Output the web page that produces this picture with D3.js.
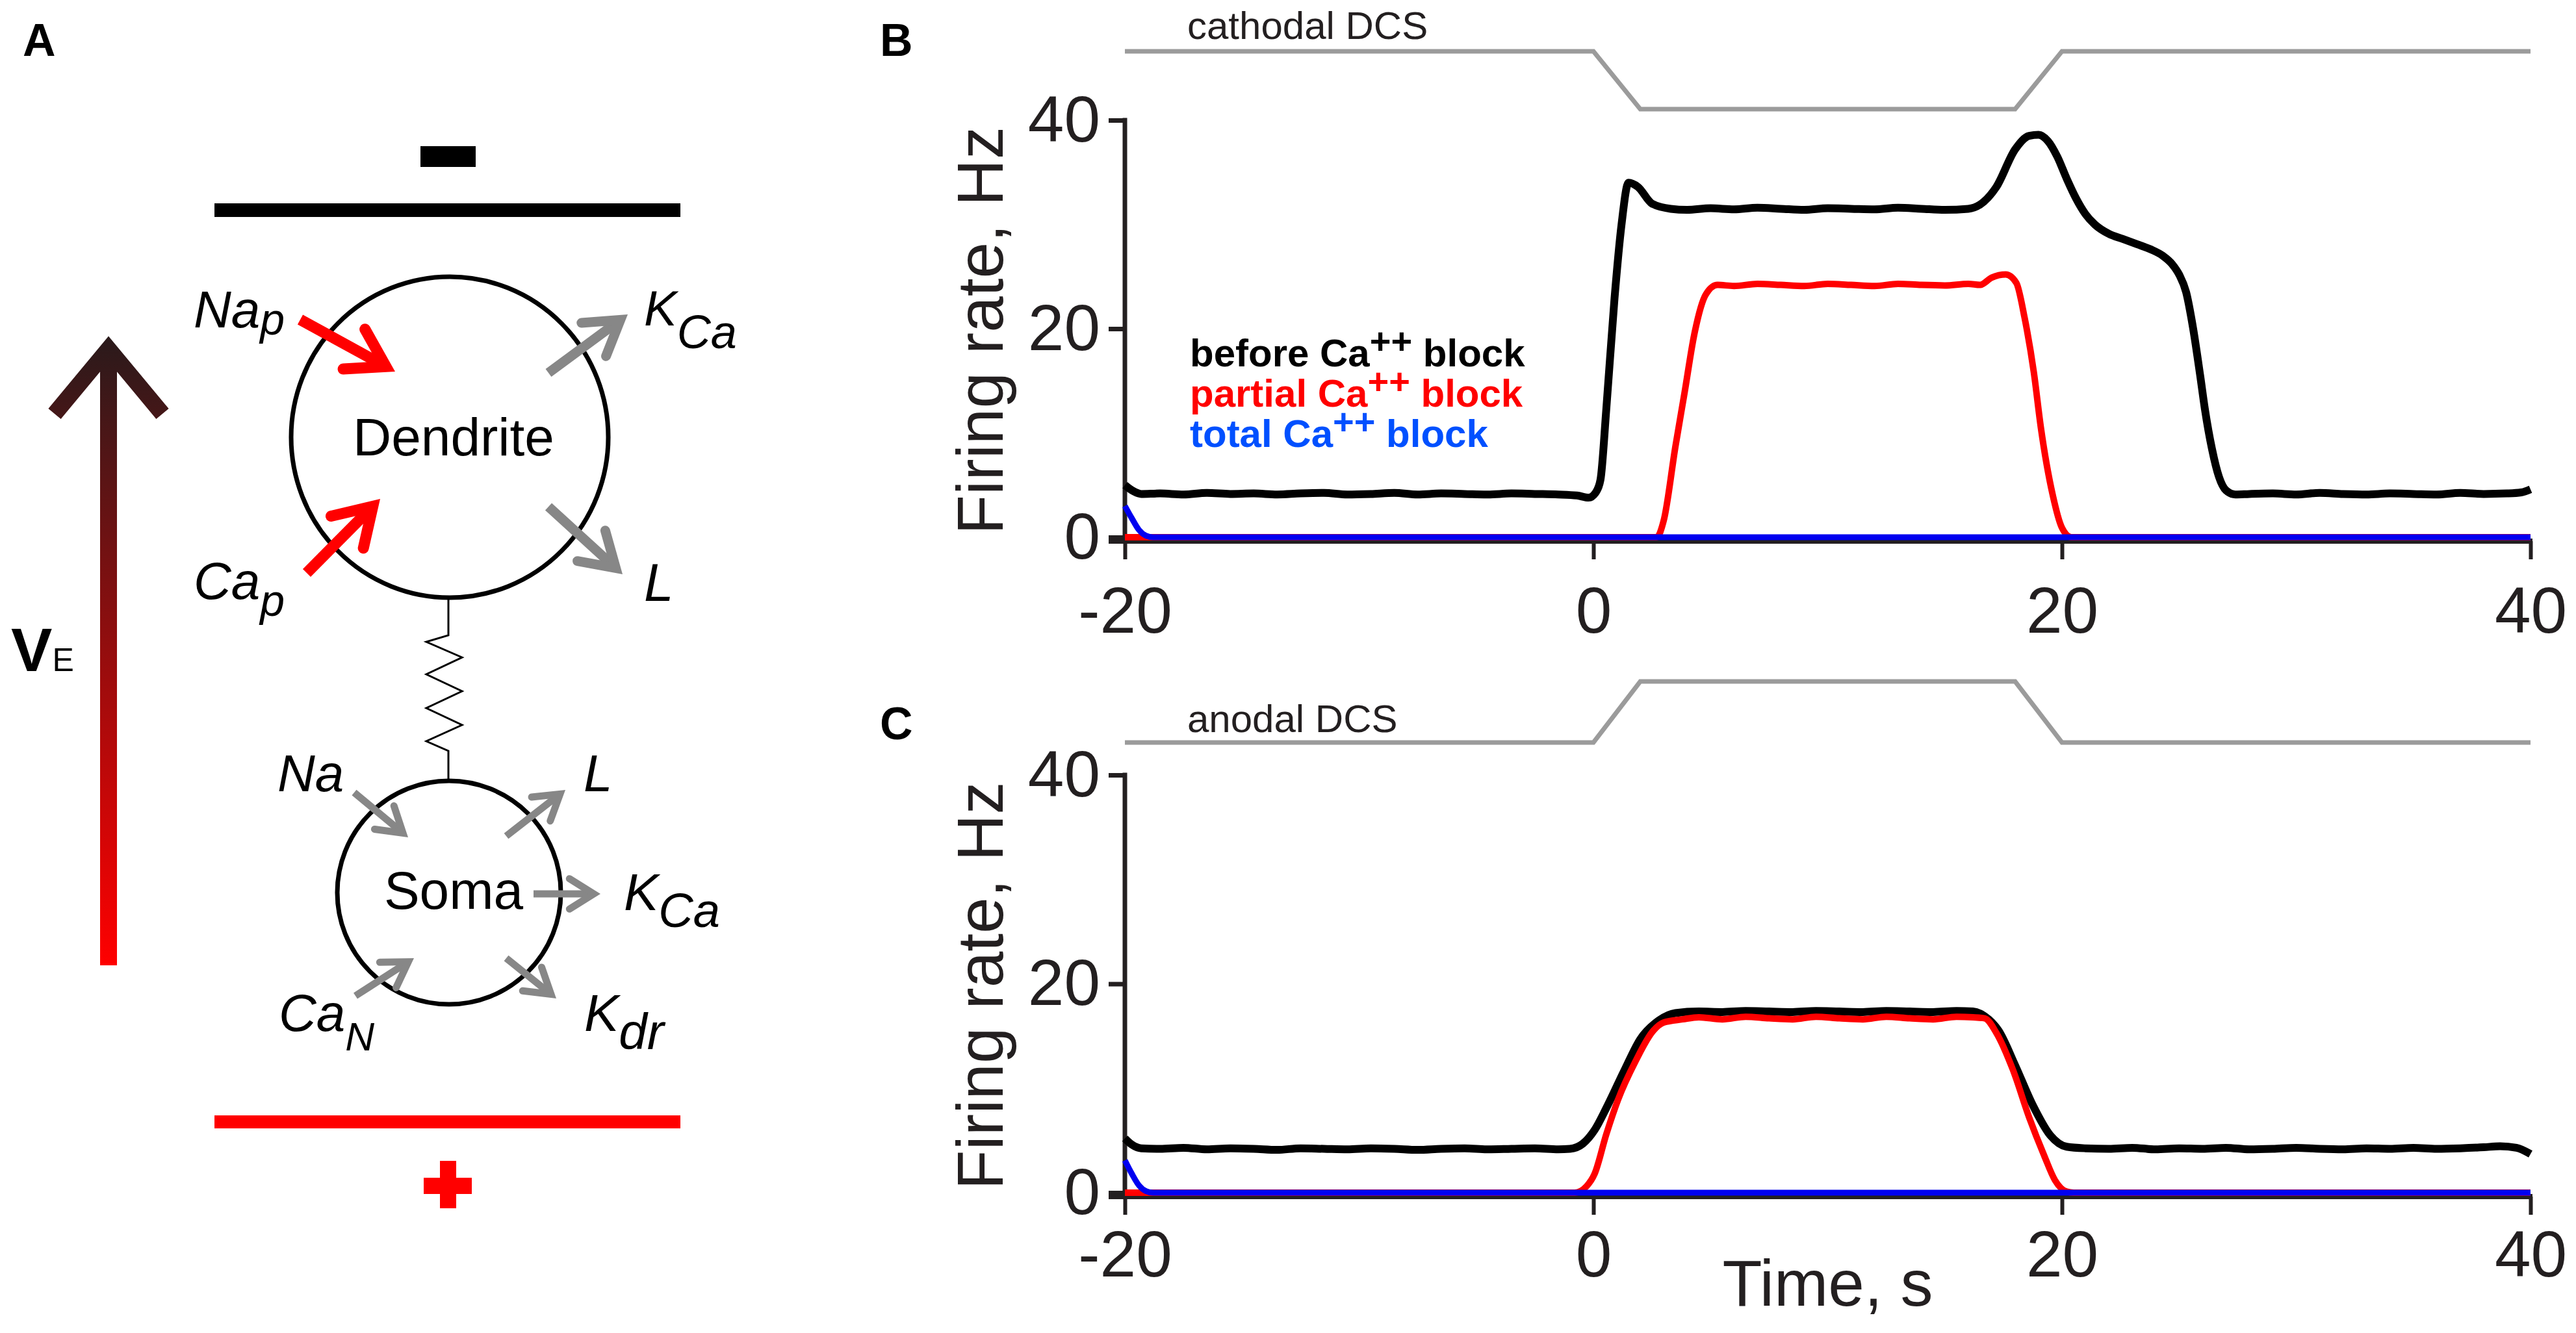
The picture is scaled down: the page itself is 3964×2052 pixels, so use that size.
<!DOCTYPE html>
<html>
<head>
<meta charset="utf-8">
<script src="https://cdn.jsdelivr.net/npm/d3@7"></script>
<style>
body { margin:0; background:#fff; }
svg { display:block; font-family:"Liberation Sans", Arial, Helvetica, sans-serif; }
</style>
</head>
<body>
<script>
// ---- data (time s, firing rate Hz) ----
var tickX = [-20, 0, 20, 40];
var tickY = [0, 20, 40];

var stimTimes = [-20, 0, 2, 18, 20, 40];
var cathodalLevel = [1, 1, 0, 0, 1, 1];
var anodalLevel = [0, 0, 1, 1, 0, 0];

var cathBefore = [[-20,5.0],[-19.7,4.5],[-19.3,4.15],[-18.5,4.2],[-17.5,4.1],[-16.5,4.25],[-15.5,4.15],[-14.5,4.2],
	[-13.5,4.1],[-12.5,4.2],[-11.5,4.25],[-10.5,4.1],[-9.5,4.15],[-8.5,4.25],[-7.5,4.1],[-6.5,4.2],[-5.5,4.15],
	[-4.5,4.1],[-3.5,4.2],[-2.5,4.15],[-1.5,4.1],[-0.7,4.0],[-0.2,3.8],[0.1,4.3],[0.3,5.5],[0.55,12.3],[0.9,22.9],
	[1.2,30.0],[1.5,34.0],[1.9,33.6],[2.5,32.0],[3.3,31.5],[4,31.4],[5,31.55],[6,31.45],[7,31.6],[8,31.5],[9,31.4],
	[10,31.55],[11,31.5],[12,31.45],[13,31.6],[14,31.5],[15,31.4],[16,31.5],[16.5,31.9],[17.2,33.6],[18,37.2],
	[18.6,38.5],[19,38.6],[19.4,38.0],[19.8,36.5],[20.2,34.4],[20.6,32.5],[21,31.0],[21.4,30.0],[22,29.1],[22.6,28.6],
	[23.2,28.1],[23.8,27.6],[24.3,27.0],[24.7,26.2],[25,25.2],[25.3,23.5],[25.6,20.0],[25.9,15.5],[26.1,12.3],
	[26.4,8.5],[26.7,5.8],[27,4.5],[27.4,4.1],[28,4.15],[29,4.2],[30,4.1],[31,4.25],[32,4.15],[33,4.1],[34,4.2],
	[35,4.15],[36,4.1],[37,4.25],[38,4.15],[39,4.2],[39.6,4.3],[40,4.6]];

var cathPartial = [[-20,0],[2.7,0],[3.0,1.6],[3.5,8.7],[3.9,14.0],[4.3,19.4],[4.8,23.3],[5.3,24.2],[6,24.1],[7,24.3],
	[8,24.2],[9,24.1],[10,24.3],[11,24.2],[12,24.1],[13,24.3],[14,24.2],[15,24.15],[16,24.3],[16.5,24.2],[17,24.9],
	[17.6,25.2],[18.05,24.4],[18.4,21.1],[18.8,15.8],[19.1,10.5],[19.6,4.1],[20,0.9],[20.4,0],[40,0]];

var cathTotal = [[-20,3.0],[-19.7,1.8],[-19.4,0.7],[-19.1,0.15],[-18.8,0],[40,0]];

var anodBefore = [[-20,5.2],[-19.7,4.6],[-19.3,4.25],[-18.5,4.2],[-17.5,4.3],[-16.5,4.15],[-15.5,4.25],[-14.5,4.2],
	[-13.5,4.1],[-12.5,4.25],[-11.5,4.2],[-10.5,4.15],[-9.5,4.25],[-8.5,4.2],[-7.5,4.1],[-6.5,4.2],[-5.5,4.25],
	[-4.5,4.15],[-3.5,4.2],[-2.5,4.25],[-1.5,4.15],[-1,4.2],[-0.45,4.7],[0.05,6.0],[0.55,8.1],[1.3,11.6],[2,14.7],
	[2.8,16.5],[3.5,17.2],[4.5,17.35],[5.5,17.3],[6.5,17.4],[7.5,17.35],[8.5,17.3],[9.5,17.4],[10.5,17.35],[11.5,17.3],
	[12.5,17.4],[13.5,17.35],[14.5,17.3],[15.5,17.4],[16.2,17.35],[16.7,16.9],[17.3,15.5],[18,12.2],[18.75,8.4],
	[19.5,5.5],[20.2,4.4],[21,4.25],[22,4.2],[23,4.3],[24,4.15],[25,4.25],[26,4.2],[27,4.3],[28,4.15],[29,4.2],
	[30,4.3],[31,4.2],[32,4.15],[33,4.25],[34,4.2],[35,4.3],[36,4.2],[37,4.25],[38,4.35],[38.7,4.45],[39.4,4.3],[40,3.7]];

var anodPartial = [[-20,0],[-0.8,0],[-0.3,0.6],[0.05,1.8],[0.55,5.6],[1.05,8.9],[1.8,12.6],[2.55,15.5],[3,16.3],
	[3.8,16.6],[4.5,16.8],[5.5,16.6],[6.5,16.85],[7.5,16.7],[8.5,16.6],[9.5,16.85],[10.5,16.7],[11.5,16.6],
	[12.5,16.85],[13.5,16.7],[14.5,16.6],[15.5,16.85],[16.2,16.8],[16.7,16.7],[17.2,15.3],[17.9,11.8],[18.6,7.2],
	[19.25,3.5],[19.7,1.2],[20.2,0.1],[20.5,0],[40,0]];

var anodTotal = [[-20,3.1],[-19.7,1.8],[-19.4,0.7],[-19.1,0.15],[-18.8,0],[40,0]];

var legendLabels = ["before", "partial", "total"];
var legendColors = ["#000000", "#ff0000", "#0050ff"];

var W = 3964, H = 2052;
var ink = "#231f20";
var svg = d3.select("body").append("svg")
	.attr("width", W).attr("height", H)
	.attr("viewBox", "0 0 " + W + " " + H);

// ================= panel A : schematic =================
var A = svg.append("g");

var defs = svg.append("defs");
var grad = defs.append("linearGradient").attr("id", "veGrad")
	.attr("gradientUnits", "userSpaceOnUse")
	.attr("x1", 0).attr("y1", 520).attr("x2", 0).attr("y2", 1486);
grad.append("stop").attr("offset", 0).attr("stop-color", "#2a1a1b");
grad.append("stop").attr("offset", 1).attr("stop-color", "#ff0000");

A.append("text").text("A").attr("x", 35).attr("y", 86)
	.attr("font-size", 70).attr("font-weight", "bold");

// electrodes
A.append("rect").attr("x", 647).attr("y", 225).attr("width", 85).attr("height", 32).attr("fill", "#000");
A.append("rect").attr("x", 330).attr("y", 313).attr("width", 717).attr("height", 21).attr("fill", "#000");
A.append("rect").attr("x", 330).attr("y", 1717).attr("width", 717).attr("height", 20).attr("fill", "#ff0000");
A.append("rect").attr("x", 652).attr("y", 1813).attr("width", 74).attr("height", 25).attr("fill", "#ff0000");
A.append("rect").attr("x", 677).attr("y", 1787).attr("width", 25).attr("height", 73).attr("fill", "#ff0000");

// field arrow
A.append("rect").attr("x", 154).attr("y", 545).attr("width", 26).attr("height", 941).attr("fill", "url(#veGrad)");
A.append("polyline").attr("points", "84,637 167,537 250,637")
	.attr("fill", "none").attr("stroke", "url(#veGrad)").attr("stroke-width", 25)
	.attr("stroke-linejoin", "miter").attr("stroke-miterlimit", 10);
var ve = A.append("text").attr("x", 17).attr("y", 1033);
ve.append("tspan").text("V").attr("font-size", 95).attr("font-weight", "bold");
ve.append("tspan").text("E").attr("font-size", 50);

// compartments
A.append("ellipse").attr("cx", 692).attr("cy", 673).attr("rx", 244).attr("ry", 247)
	.attr("fill", "none").attr("stroke", "#000").attr("stroke-width", 7);
A.append("circle").attr("cx", 691).attr("cy", 1374).attr("r", 172)
	.attr("fill", "none").attr("stroke", "#000").attr("stroke-width", 7);
A.append("polyline")
	.attr("points", "690,920 690,978 656,988 711,1012 656,1038 711,1064 656,1090 711,1116 656,1141 690,1156 690,1203")
	.attr("fill", "none").attr("stroke", "#000").attr("stroke-width", 3);
A.append("text").text("Dendrite").attr("x", 698).attr("y", 701)
	.attr("text-anchor", "middle").attr("font-size", 82);
A.append("text").text("Soma").attr("x", 698).attr("y", 1399)
	.attr("text-anchor", "middle").attr("font-size", 82);

function arrow(x1, y1, x2, y2, color, w, head) {
	var dx = x2 - x1, dy = y2 - y1, L = Math.hypot(dx, dy), ux = dx / L, uy = dy / L;
	var a = 32 * Math.PI / 180;
	var back = (w / 2) / Math.sin(a);
	var tx = x2 - ux * back, ty = y2 - uy * back;
	A.append("line").attr("x1", x1).attr("y1", y1).attr("x2", tx - ux * w * 0.3).attr("y2", ty - uy * w * 0.3)
		.attr("stroke", color).attr("stroke-width", w);
	var arm = function (t) {
		return [tx - head * (ux * Math.cos(t) - uy * Math.sin(t)), ty - head * (ux * Math.sin(t) + uy * Math.cos(t))];
	};
	var p1 = arm(a), p2 = arm(-a);
	A.append("polyline").attr("points", [p1, [tx, ty], p2].map(function (p) { return p.join(","); }).join(" "))
		.attr("fill", "none").attr("stroke", color).attr("stroke-width", w)
		.attr("stroke-linejoin", "miter").attr("stroke-linecap", "round");
}

arrow(462, 492, 608, 572, "#ff0000", 17, 66);
arrow(472, 882, 585, 768, "#ff0000", 17, 66);
arrow(844, 574, 966, 484, "#878787", 15, 60);
arrow(844, 780, 958, 884, "#878787", 15, 60);
arrow(545, 1220, 628, 1289, "#878787", 11, 44);
arrow(779, 1287, 870, 1216, "#878787", 11, 44);
arrow(821, 1376, 924, 1376, "#878787", 11, 44);
arrow(547, 1533, 637, 1475, "#878787", 11, 44);
arrow(779, 1475, 856, 1537, "#878787", 11, 44);

function chan(x, y, main, sub, size, subSize, subDy) {
	var t = A.append("text").attr("x", x).attr("y", y).attr("font-style", "italic").attr("fill", "#000");
	t.append("tspan").text(main).attr("font-size", size);
	if (sub) t.append("tspan").text(sub).attr("font-size", subSize).attr("dy", subDy);
}
chan(298, 504, "Na", "p", 80, 68, 11);
chan(991, 501, "K", "Ca", 76, 72, 35);
chan(298, 922, "Ca", "p", 80, 68, 26);
chan(991, 925, "L", null, 82);
chan(427, 1218, "Na", null, 80);
chan(898, 1218, "L", null, 80);
chan(960, 1401, "K", "Ca", 80, 74, 26);
chan(429, 1587, "Ca", "N", 80, 62, 30);
chan(899, 1587, "K", "dr", 80, 78, 28);

// ================= panels B and C : firing rate =================
var x = d3.scaleLinear().domain([-20, 40]).range([1731, 3894]);

var panels = [
	{ id: "B", y0: 827, y40: 185, labY: 86, stim: cathodalLevel, stimRange: [168, 79], stimText: "cathodal DCS",
	  stimTextY: 60, tickPad: 42, series: [cathBefore, cathPartial, cathTotal], legend: true, xlabel: false },
	{ id: "C", y0: 1836, y40: 1193, labY: 1138, stim: anodalLevel, stimRange: [1143, 1049], stimText: "anodal DCS",
	  stimTextY: 1127, tickPad: 24, series: [anodBefore, anodPartial, anodTotal], legend: false, xlabel: true }
];

var lineColors = ["#000000", "#ff0000", "#0000f0"];
var lineWidths = [12, 10, 9];

panels.forEach(function (p) {
	var g = svg.append("g");
	var y = d3.scaleLinear().domain([0, 40]).range([p.y0, p.y40]);
	var axisY = p.y0 + 6;

	g.append("text").text(p.id).attr("x", 1354).attr("y", p.labY)
		.attr("font-size", 70).attr("font-weight", "bold");

	// stimulus trace
	var sy = d3.scaleLinear().domain([0, 1]).range(p.stimRange);
	g.append("path")
		.attr("d", d3.line().x(function (d, i) { return x(stimTimes[i]); }).y(function (d) { return sy(d); })(p.stim))
		.attr("fill", "none").attr("stroke", "#9b9b9b").attr("stroke-width", 7);
	g.append("text").text(p.stimText).attr("x", 1827).attr("y", p.stimTextY)
		.attr("font-size", 60).attr("fill", ink);

	// y axis
	var ya = g.append("g").attr("transform", "translate(1731,0)")
		.call(d3.axisLeft(y).tickValues(tickY).tickSize(25).tickSizeOuter(0).tickPadding(13));
	ya.select(".domain").remove();
	ya.selectAll(".tick line").attr("stroke", ink).attr("stroke-width", 7);
	ya.selectAll(".tick text").attr("font-size", 100).attr("fill", ink)
		.attr("font-family", "'Liberation Sans', Arial, sans-serif");
	g.append("line").attr("x1", 1731).attr("x2", 1731).attr("y1", y(40) - 3.5).attr("y2", axisY + 3.5)
		.attr("stroke", ink).attr("stroke-width", 7);

	// x axis
	var xa = g.append("g").attr("transform", "translate(0," + axisY + ")")
		.call(d3.axisBottom(x).tickValues(tickX).tickFormat(d3.format("d")).tickSize(28).tickSizeOuter(0).tickPadding(p.tickPad));
	xa.select(".domain").remove();
	xa.selectAll(".tick line").attr("stroke", ink).attr("stroke-width", 6);
	xa.selectAll(".tick text").attr("font-size", 100).attr("fill", ink)
		.attr("font-family", "'Liberation Sans', Arial, sans-serif")
		.text(function (d) { return d < 0 ? "-" + Math.abs(d) : d; });
	g.append("line").attr("x1", 1706).attr("x2", x(40) + 3).attr("y1", axisY).attr("y2", axisY)
		.attr("stroke", ink).attr("stroke-width", 8);

	g.append("text").text("Firing rate, Hz")
		.attr("transform", "translate(1543," + ((y(40) + axisY) / 2) + ") rotate(-90)")
		.attr("text-anchor", "middle").attr("font-size", 100).attr("fill", ink);

	// traces
	var line = d3.line().x(function (d) { return x(d[0]); }).y(function (d) { return y(d[1]); })
		.curve(d3.curveMonotoneX);
	p.series.forEach(function (s, i) {
		g.append("path").attr("d", line(s)).attr("fill", "none")
			.attr("stroke", lineColors[i]).attr("stroke-width", lineWidths[i])
			.attr("stroke-linejoin", "round");
	});

	if (p.legend) {
		legendLabels.forEach(function (lab, i) {
			var t = g.append("text").attr("x", 1831).attr("y", 564 + i * 62)
				.attr("font-size", 60).attr("font-weight", "bold").attr("fill", legendColors[i]);
			t.append("tspan").text(lab + " Ca");
			t.append("tspan").text("++").attr("dy", -20).attr("font-size", 56);
			t.append("tspan").text(" block").attr("dy", 20);
		});
	}

	if (p.xlabel) {
		g.append("text").text("Time, s").attr("x", (x(-20) + x(40)) / 2).attr("y", 2010)
			.attr("text-anchor", "middle").attr("font-size", 100).attr("fill", ink);
	}
});
</script>
</body>
</html>
